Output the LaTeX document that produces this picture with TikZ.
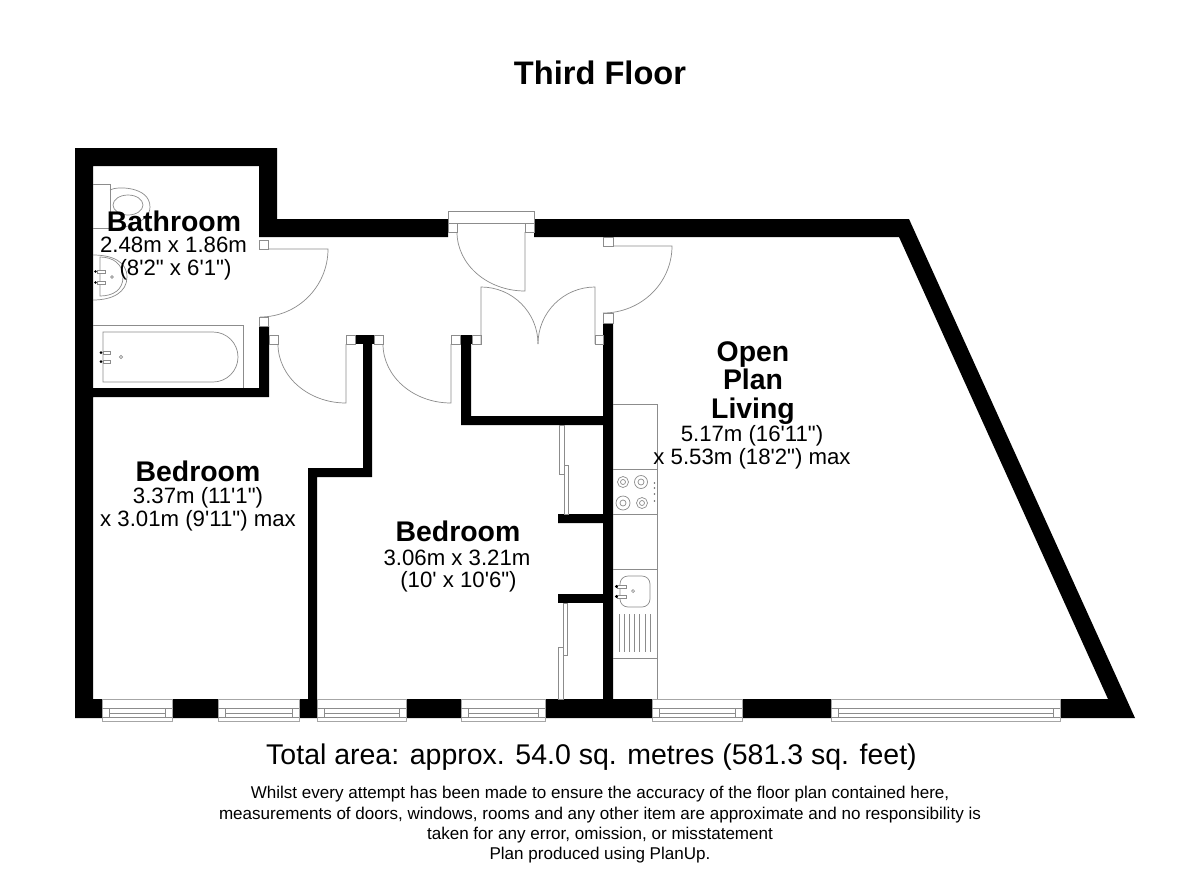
\documentclass[tikz,border=0pt]{standalone}
\usepackage{fontspec}
\setmainfont{Liberation Sans}[Ligatures=TeXOff]
\tikzset{
  wall/.style={fill=black,draw=none},
  fix/.style={draw=black!45,line width=0.7pt,fill=none},
  frame/.style={draw=black!45,line width=0.7pt,fill=white},
  win/.style={draw=black!35,line width=0.9pt,fill=white},
  dotk/.style={fill=black,draw=none},
  room/.style={font=\fontsize{28.4}{28.5}\bfseries\selectfont,align=center,inner sep=0pt},
  dims/.style={font=\fontsize{22.2}{22.8}\selectfont,align=center,inner sep=0pt},
}
\newcommand{\winbox}[2]{%
  \draw[win] (#1,699) rectangle (#2,721);
  \draw[fix] (#1,708) -- (#2,708);
  \draw[fix] (#1+7,713) -- (#2-7,713);
  \draw[fix] (#1,717) -- (#2,717);
  \draw[fix] (#1+7,708) -- (#1+7,717);
  \draw[fix] (#2-7,708) -- (#2-7,717);
}
\begin{document}
\begin{tikzpicture}[x=1pt,y=-1pt]
\useasboundingbox (0,0) rectangle (1200,873);
\fill[white] (0,0) rectangle (1200,873);
% walls
\fill[wall] (75,148) -- (277,148) -- (277,219) -- (448,219) -- (448,237) -- (269,237) -- (259,237)
  -- (259,166) -- (93,166) -- (93,388) -- (259,388) -- (259,326) -- (269,326) -- (269,397) -- (93,397)
  -- (93,699) -- (308,699) -- (308,468) -- (363,468) -- (363,335) -- (372,335) -- (372,477) -- (317,477)
  -- (317,699) -- (603,699) -- (603,523) -- (558,523) -- (558,514) -- (603,514) -- (603,425)
  -- (461,425) -- (461,335) -- (471,335) -- (471,416) -- (603,416) -- (603,323) -- (613,323)
  -- (613,699) -- (1108,699) -- (899,237) -- (534,237) -- (534,219) -- (909,219) -- (1135,718) -- (75,718) -- cycle;
\fill[wall] (558,594) rectangle (603,603);
\fill[wall] (355,335) rectangle (374,344);
\fill[wall] (460,335) rectangle (472,344);
% door frames
\draw[frame] (448,211) rectangle (534,223);
\draw[frame] (448,223) rectangle (457,232);
\draw[frame] (525,223) rectangle (534,232);
\draw[frame] (259,240) rectangle (268,249);
\draw[frame] (259,317) rectangle (268,326);
\draw[frame] (269,335) rectangle (278,344);
\draw[frame] (346,335) rectangle (355,344);
\draw[frame] (374,335) rectangle (383,344);
\draw[frame] (451,335) rectangle (460,344);
\draw[frame] (472,335) rectangle (481,344);
\draw[frame] (595,335) rectangle (603,344);
\draw[frame] (603,313) rectangle (613,323);
\draw[frame] (603,237) rectangle (613,246);
% door leaves
\draw[fix] (268,249) -- (328,249) arc[start angle=0,end angle=90,x radius=68,y radius=68];
\draw[fix] (346,344) -- (346,403) arc[start angle=90,end angle=180,x radius=68,y radius=59];
\draw[fix] (451,344) -- (451,403) arc[start angle=90,end angle=180,x radius=68,y radius=59];
\draw[fix] (525,232) -- (525,291) arc[start angle=90,end angle=180,x radius=68,y radius=59];
\draw[fix] (481,344) -- (481,287) arc[start angle=-90,end angle=0,x radius=57,y radius=57];
\draw[fix] (595,344) -- (595,287) arc[start angle=-90,end angle=-180,x radius=57,y radius=57];
\draw[fix] (613,246) -- (672,246) arc[start angle=0,end angle=90,x radius=69,y radius=67];
% sliding wardrobe doors
\draw[fix] (559,425) rectangle (564,474);
\draw[fix] (564,465) rectangle (568,514);
\draw[fix] (563,603) rectangle (567,655);
\draw[fix] (558,647) rectangle (563,699);
% kitchen
\draw[fix] (613,404) -- (657,404) -- (657,699);
\foreach \yy in {469,514,569,658} \draw[fix] (613,\yy) -- (657,\yy);
\foreach \cx/\cy/\ra/\rb in {623/482/5.5/2.5,641/482/6.5/3,623/503/7/3,642/503/5.5/2.5}{
  \draw[fix] (\cx,\cy) circle[radius=\ra];
  \draw[fix] (\cx,\cy) circle[radius=\rb];
}
\foreach \yy in {483,488,494,501} \fill[black!60] (654.5,\yy) circle[radius=0.9];
\draw[fix,rounded corners=8pt] (620,576) rectangle (650,607);
\draw[fix] (633,591) circle[radius=1.5];
\foreach \yy in {585,595}{
  \draw[fix,fill=white] (617,\yy) rectangle (626,\yy+3);
  \fill[dotk] (616.5,\yy+1.5) circle[radius=1.6];
}
\foreach \xx in {619.3,624.3,629.3,634.3,639.3,645,650} \draw[fix] (\xx,614) -- (\xx,652);
% toilet
\draw[fix] (93,184) -- (110,184) -- (110,228) -- (93,228);
\draw[fix] (110,190) .. controls (116,186) and (150,186) .. (150,207) .. controls (150,222) and (125,229) .. (110,228);
\draw[fix] (128,205) ellipse[x radius=15,y radius=10];
% basin
\draw[fix] (93,255) .. controls (113,255) and (127,262) .. (127,277) .. controls (127,292) and (113,300) .. (93,300);
\draw[fix] (100,257) .. controls (113,257) and (123,264) .. (123,277) .. controls (123,290) and (113,296) .. (100,296) -- cycle;
\foreach \yy in {270,281}{
  \draw[fix,fill=white] (97,\yy) rectangle (105,\yy+3);
  \fill[dotk] (95.5,\yy+1.5) circle[radius=1.4];
}
\draw[fix] (112,277) circle[radius=1.4];
% bath
\draw[fix] (93,325) -- (243,325) -- (243,388);
\draw[fix] (103,332) -- (213,332) arc[start angle=-90,end angle=90,x radius=25,y radius=25] -- (103,382) -- cycle;
\foreach \yy in {351,360}{
  \draw[fix,fill=white] (103,\yy) rectangle (110,\yy+3);
  \fill[dotk] (101,\yy+1.5) circle[radius=1.5];
}
\draw[fix] (121,357) circle[radius=1.7];
% windows
\winbox{102}{172}
\winbox{218}{299}
\winbox{317}{406}
\winbox{461}{545}
\winbox{652}{742}
\winbox{831}{1060}
% text
\node[inner sep=0pt,font=\fontsize{32.6}{36}\bfseries\selectfont] (title) at (600,72.5) {Third Floor};
\node[room] (bath) at (174,221) {Bathroom};
\node[dims] (bathd) at (173.5,258.5) {2.48m x 1.86m\\\hspace*{4pt}(8'2" x 6'1")};
\node[room] (bed1) at (198,471) {Bedroom};
\node[dims] (bed1d) at (198,509) {3.37m (11'1")\\x 3.01m (9'11") max};
\node[room] (bed2) at (458,531) {Bedroom};
\node[dims] (bed2d) at (457,571) {3.06m x 3.21m\\\hspace*{3pt}(10' x 10'6")};
\node[room] (liv) at (753,383) {Open\\Plan\\Living};
\node[dims] (livd) at (752,447) {5.17m (16'11")\\x 5.53m (18'2") max};
\node[inner sep=0pt,font=\fontsize{28.5}{30}\selectfont] (tot) at (591.5,757) {Total area: approx. 54.0 sq. metres (581.3 sq. feet)};
\node[inner sep=0pt,align=center,font=\fontsize{17.05}{20.3}\selectfont] (note) at (600,825) {Whilst every attempt has been made to ensure the accuracy of the floor plan contained here,\\measurements of doors, windows, rooms and any other item are approximate and no responsibility is\\taken for any error, omission, or misstatement\\Plan produced using PlanUp.};
\end{tikzpicture}
\end{document}
